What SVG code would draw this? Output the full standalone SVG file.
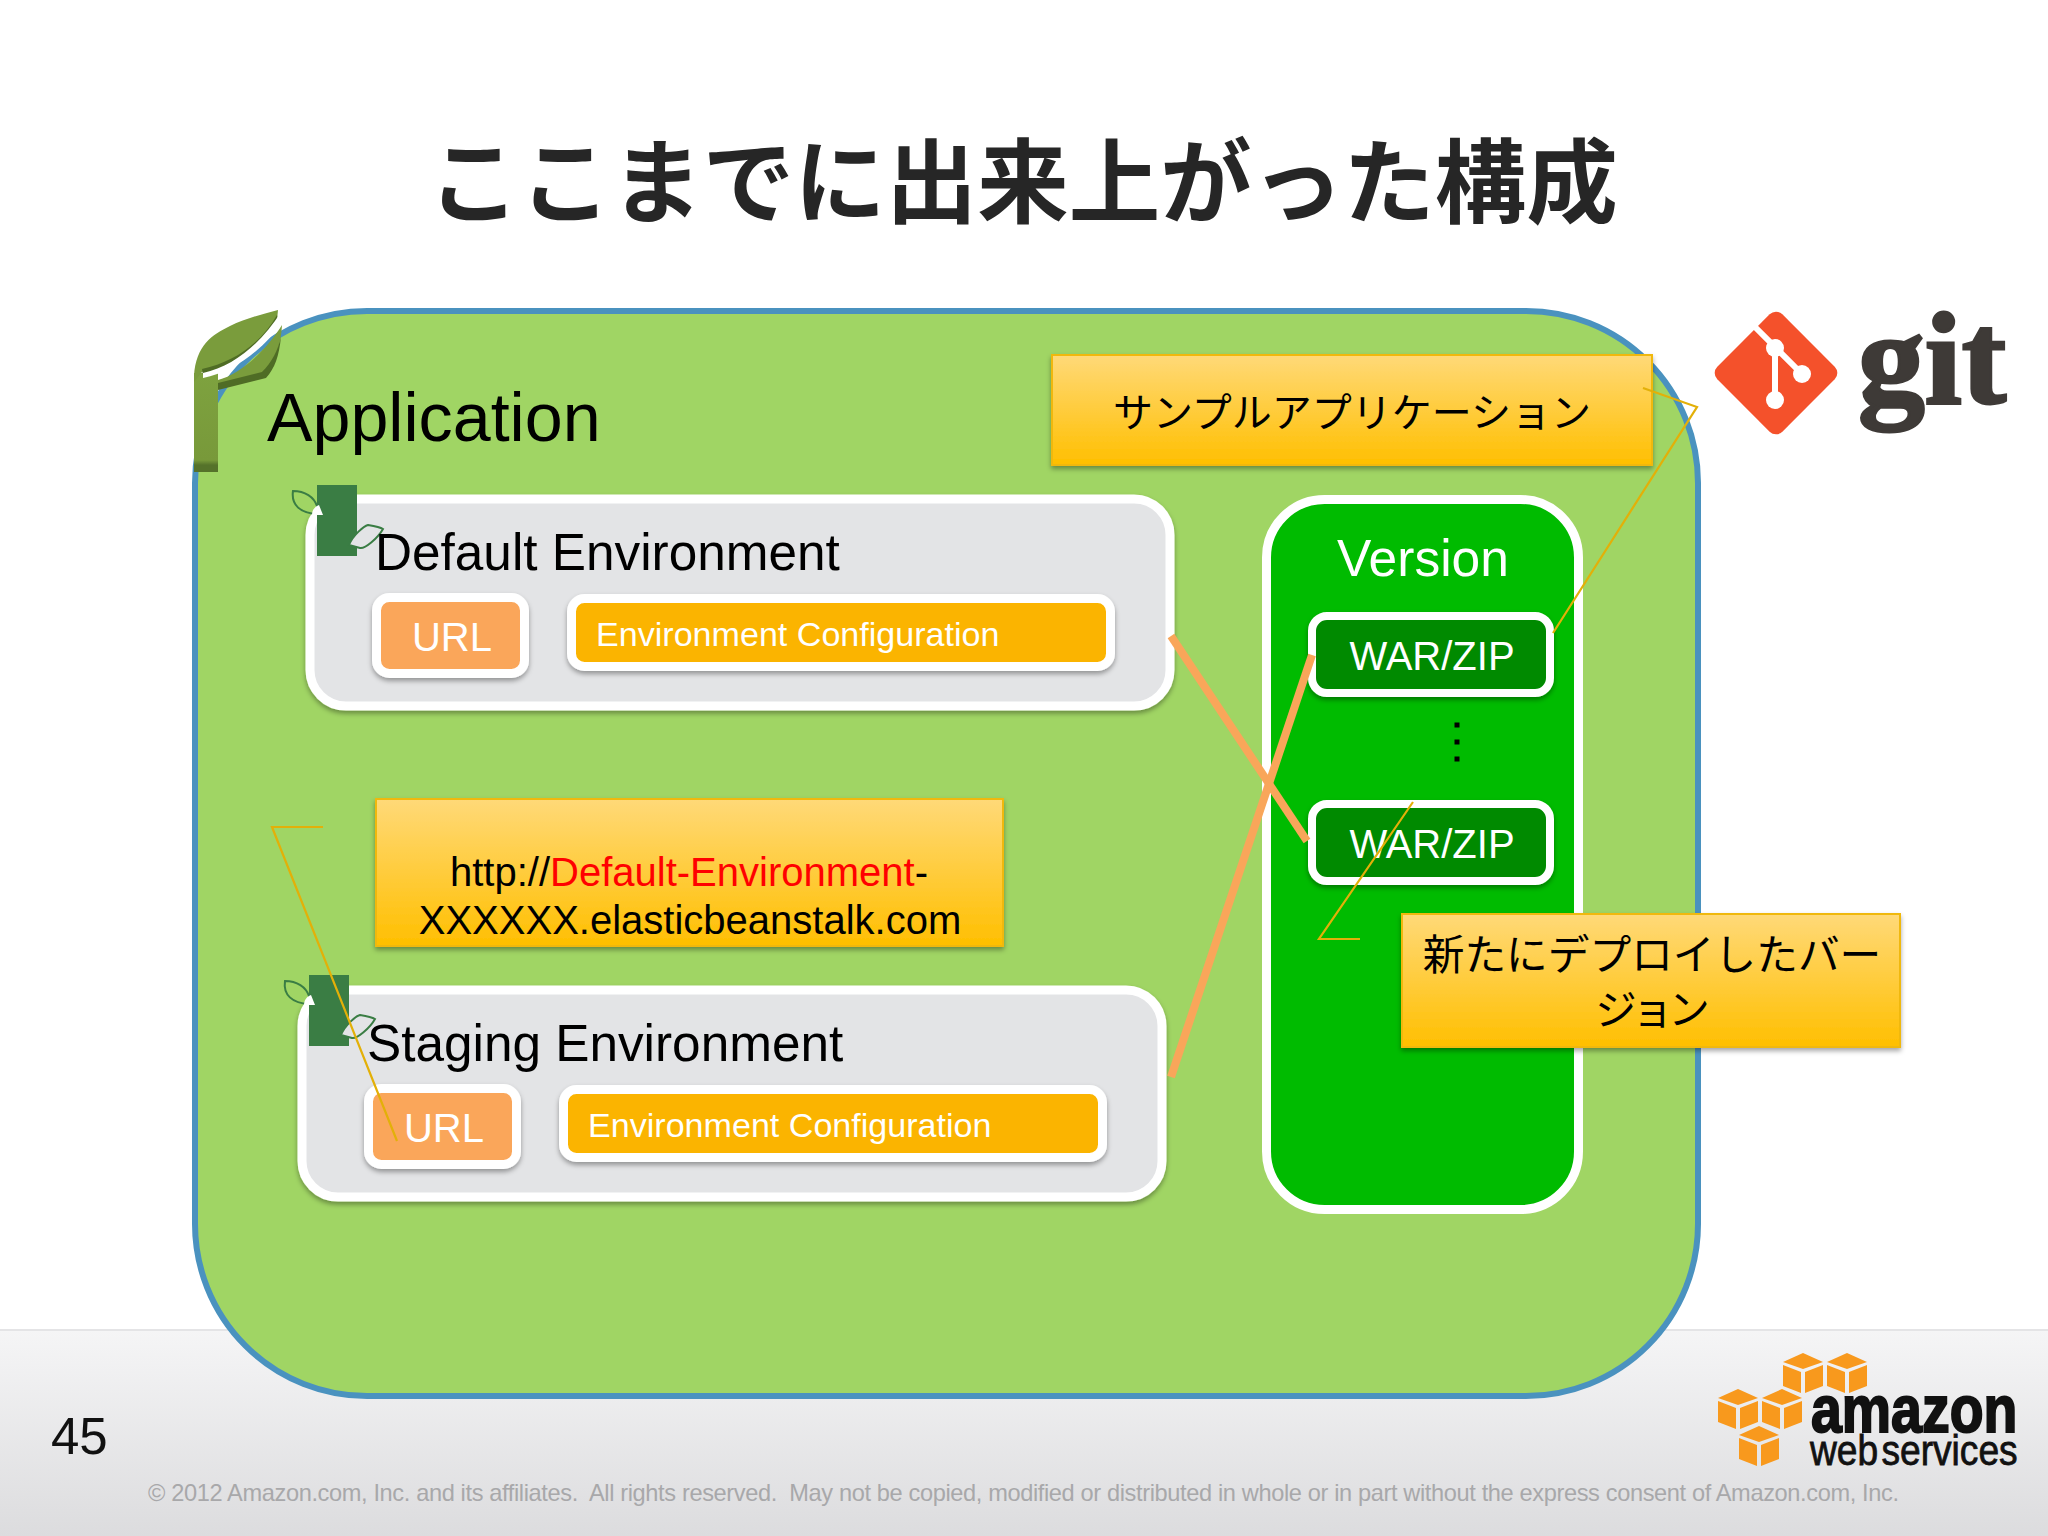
<svg xmlns="http://www.w3.org/2000/svg" width="2048" height="1536" viewBox="0 0 2048 1536">
<defs>
<linearGradient id="foot" x1="0" y1="0" x2="0" y2="1"><stop offset="0" stop-color="#f5f5f6"/><stop offset="1" stop-color="#dcdcde"/></linearGradient>
<linearGradient id="note" x1="0" y1="0" x2="0" y2="1"><stop offset="0" stop-color="#ffd978"/><stop offset="1" stop-color="#ffbf00"/></linearGradient>
<linearGradient id="stem" x1="0" y1="0" x2="0" y2="1"><stop offset="0" stop-color="#7ea23f"/><stop offset="0.88" stop-color="#78993a"/><stop offset="0.93" stop-color="#55722a"/><stop offset="1" stop-color="#55722a"/></linearGradient>
<filter id="sh" x="-10%" y="-20%" width="120%" height="150%"><feDropShadow dx="0" dy="3" stdDeviation="2.5" flood-color="#000" flood-opacity="0.35"/></filter>
<g id="envIcon">
<rect x="317" y="485" width="40" height="71" fill="#3a7d44"/>
<path d="M317 514C300 513 291 505 293 491C305 491 314 497 317 506Z" fill="#a0d564" stroke="#3a7d44" stroke-width="2"/>
<path d="M312 515C312 509 316 506 319 505L323 515Z" fill="#fff"/>
<path d="M349 545C353 535 364 526 368 525C374 526 380 527 383 529C378 538 365 549 360 548Z" fill="#e3e4e6" stroke="#3a7d44" stroke-width="2"/>
</g>
</defs>
<style>
text{font-family:"Liberation Sans","Noto Sans CJK JP",sans-serif}
.env{fill:#e3e4e6;stroke:#fff;stroke-width:9;filter:url(#sh)}
.url{fill:#faa65a;stroke:#fff;stroke-width:9;filter:url(#sh)}
.cfg{fill:#fbb400;stroke:#fff;stroke-width:9;filter:url(#sh)}
.war{fill:#008a00;stroke:#fff;stroke-width:8;filter:url(#sh)}
.note{fill:url(#note);stroke:#f0b810;stroke-width:2;filter:url(#sh)}
.w{fill:#fff}
.lead{fill:none;stroke:#e3b008;stroke-width:2.2}
.conn{stroke:#f9a65a;stroke-width:8;fill:none}
.cube{fill:#f8991d}
</style>
<rect width="2048" height="1536" fill="#fff"/>
<g id="footer">
<rect x="0" y="1330" width="2048" height="206" fill="url(#foot)"/>
<rect x="0" y="1329" width="2048" height="2" fill="#e4e4e6"/>
<text x="51" y="1454" font-size="51" fill="#111">45</text>
<text x="148" y="1501" font-size="23.600" fill="#a8a8aa" textLength="1751" xml:space="preserve">© 2012 Amazon.com, Inc. and its affiliates.  All rights reserved.  May not be copied, modified or distributed in whole or in part without the express consent of Amazon.com, Inc.</text>
</g>
<text id="title" x="1023" y="216" font-size="91.500" font-weight="700" text-anchor="middle" fill="#262626">ここまでに出来上がった構成</text>
<g id="application">
<rect x="195" y="311" width="1503" height="1085" rx="172" ry="172" fill="#a0d564" stroke="#4a92bf" stroke-width="6"/>
<rect x="194" y="373" width="24" height="99" fill="url(#stem)"/>
<path d="M194 376C196 345 212 335 230 326C245 319 262 314 278 310L277 320C262 345 235 365 202 372L194 382Z" fill="#7a9c3c"/>
<path d="M202 369C235 362 262 342 277 315L278 322C262 350 235 368 203 375Z" fill="#4f6c25"/>
<path d="M203 378C235 372 265 347 282 323L281 312C262 342 235 366 203 373Z" fill="#fff"/>
<path d="M218 380C240 374 265 352 282 325C281 345 275 362 265 372L218 385Z" fill="#7a9c3c"/>
<path d="M218 383L262 372C272 362 278 350 281 337C279 356 275 368 266 378L218 390Z" fill="#4f6c25"/>
<text x="267" y="441" font-size="68.200" fill="#000">Application</text>
</g>
<g id="default-environment">
<rect class="env" x="310" y="499" width="860" height="207" rx="36"/>
<use href="#envIcon"/>
<text x="375" y="570" font-size="51.300" fill="#000">Default Environment</text>
<rect class="url" x="376.500" y="597.500" width="148" height="76" rx="13"/>
<text class="w" x="452" y="651" font-size="40" text-anchor="middle">URL</text>
<rect class="cfg" x="571.500" y="598.500" width="539" height="68" rx="13"/>
<text class="w" x="596" y="646" font-size="34.100">Environment Configuration</text>
</g>
<g id="staging-environment" transform="translate(-8 491)">
<rect class="env" x="310" y="499" width="860" height="207" rx="36"/>
<use href="#envIcon" y="-1"/>
<text x="375" y="570" font-size="51.300" fill="#000">Staging Environment</text>
<rect class="url" x="376.500" y="597.500" width="148" height="76" rx="13"/>
<text class="w" x="452" y="651" font-size="40" text-anchor="middle">URL</text>
<rect class="cfg" x="571.500" y="598.500" width="539" height="68" rx="13"/>
<text class="w" x="596" y="646" font-size="34.100">Environment Configuration</text>
</g>
<g id="version">
<rect x="1266.500" y="499.500" width="312" height="710" rx="58" fill="#00bb00" stroke="#fff" stroke-width="9"/>
<text class="w" x="1423" y="576" font-size="51.500" text-anchor="middle">Version</text>
</g>
<g id="war1">
<rect class="war" x="1312" y="616" width="238" height="77" rx="15"/>
<text class="w" x="1432" y="670" font-size="40" text-anchor="middle">WAR/ZIP</text>
</g>
<g id="dots" fill="#000">
<rect x="1454.500" y="722.500" width="5" height="5"/><rect x="1454.500" y="739.500" width="5" height="5"/><rect x="1454.500" y="756.500" width="5" height="5"/>
</g>
<g id="war2">
<rect class="war" x="1312" y="804" width="238" height="77" rx="15"/>
<text class="w" x="1432" y="858" font-size="40" text-anchor="middle">WAR/ZIP</text>
</g>
<g id="note-sample">
<rect class="note" x="1052" y="355" width="600" height="110"/>
<text x="1352" y="427" font-size="40" text-anchor="middle" fill="#000">サンプルアプリケーション</text>
</g>
<g id="note-url">
<rect class="note" x="376" y="799" width="627" height="147"/>
<text x="689" y="886" font-size="40" text-anchor="middle" fill="#000">http://<tspan fill="#ff0000">Default-Environment</tspan>-</text>
<text x="690" y="934" font-size="40" text-anchor="middle" fill="#000">XXXXXX.elasticbeanstalk.com</text>
</g>
<g id="note-new">
<rect class="note" x="1402" y="914" width="498" height="133"/>
<text x="1652" y="970" font-size="41.700" text-anchor="middle" fill="#000">新たにデプロイしたバー</text>
<text x="1650" y="1025" font-size="41.500" letter-spacing="-5" text-anchor="middle" fill="#000">ジョン</text>
</g>
<g id="connectors">
<line class="conn" x1="1171" y1="636" x2="1307" y2="841"/>
<line class="conn" x1="1171" y1="1077" x2="1312" y2="655"/>
<polyline class="lead" points="1643,388 1697,407 1553,633"/>
<polyline class="lead" points="323,827 272,827 397,1141"/>
<polyline class="lead" points="1360,939 1319,939 1413,802"/>
</g>
<g id="git-logo">
<rect x="1730" y="327" width="92" height="92" rx="9" transform="rotate(45 1776 373)" fill="#f4512b"/>
<path d="M1755 327L1802 374M1775 348V400" stroke="#fff" stroke-width="6" fill="none"/>
<circle cx="1775" cy="348" r="9" fill="#fff"/><circle cx="1802" cy="374" r="9" fill="#fff"/><circle cx="1775" cy="400" r="9" fill="#fff"/>
<text transform="translate(1858 403) scale(1.01 1)" font-size="132" font-weight="700" style="font-family:'Liberation Serif',serif" fill="#3e3a37" stroke="#3e3a37" stroke-width="3">git</text>
</g>
<g id="aws-logo">
<g id="cube">
<polygon class="cube" points="1783,1362 1803,1353 1823,1362 1803,1369"/>
<polygon class="cube" points="1783,1365 1801,1372 1801,1393 1783,1386"/>
<polygon class="cube" points="1805,1372 1823,1365 1823,1386 1805,1393"/>
</g>
<use href="#cube" x="44"/>
<use href="#cube" x="-65" y="36"/>
<use href="#cube" x="-21" y="36"/>
<use href="#cube" x="-44" y="73"/>
<text transform="translate(1811 1432) scale(0.84 1)" font-size="66" font-weight="700" fill="#111" stroke="#111" stroke-width="2">amazon</text>
<text transform="translate(1810 1465) scale(0.885 1)" font-size="42" fill="#111" stroke="#111" stroke-width="0.800" word-spacing="-8">web services</text>
</g>
</svg>
